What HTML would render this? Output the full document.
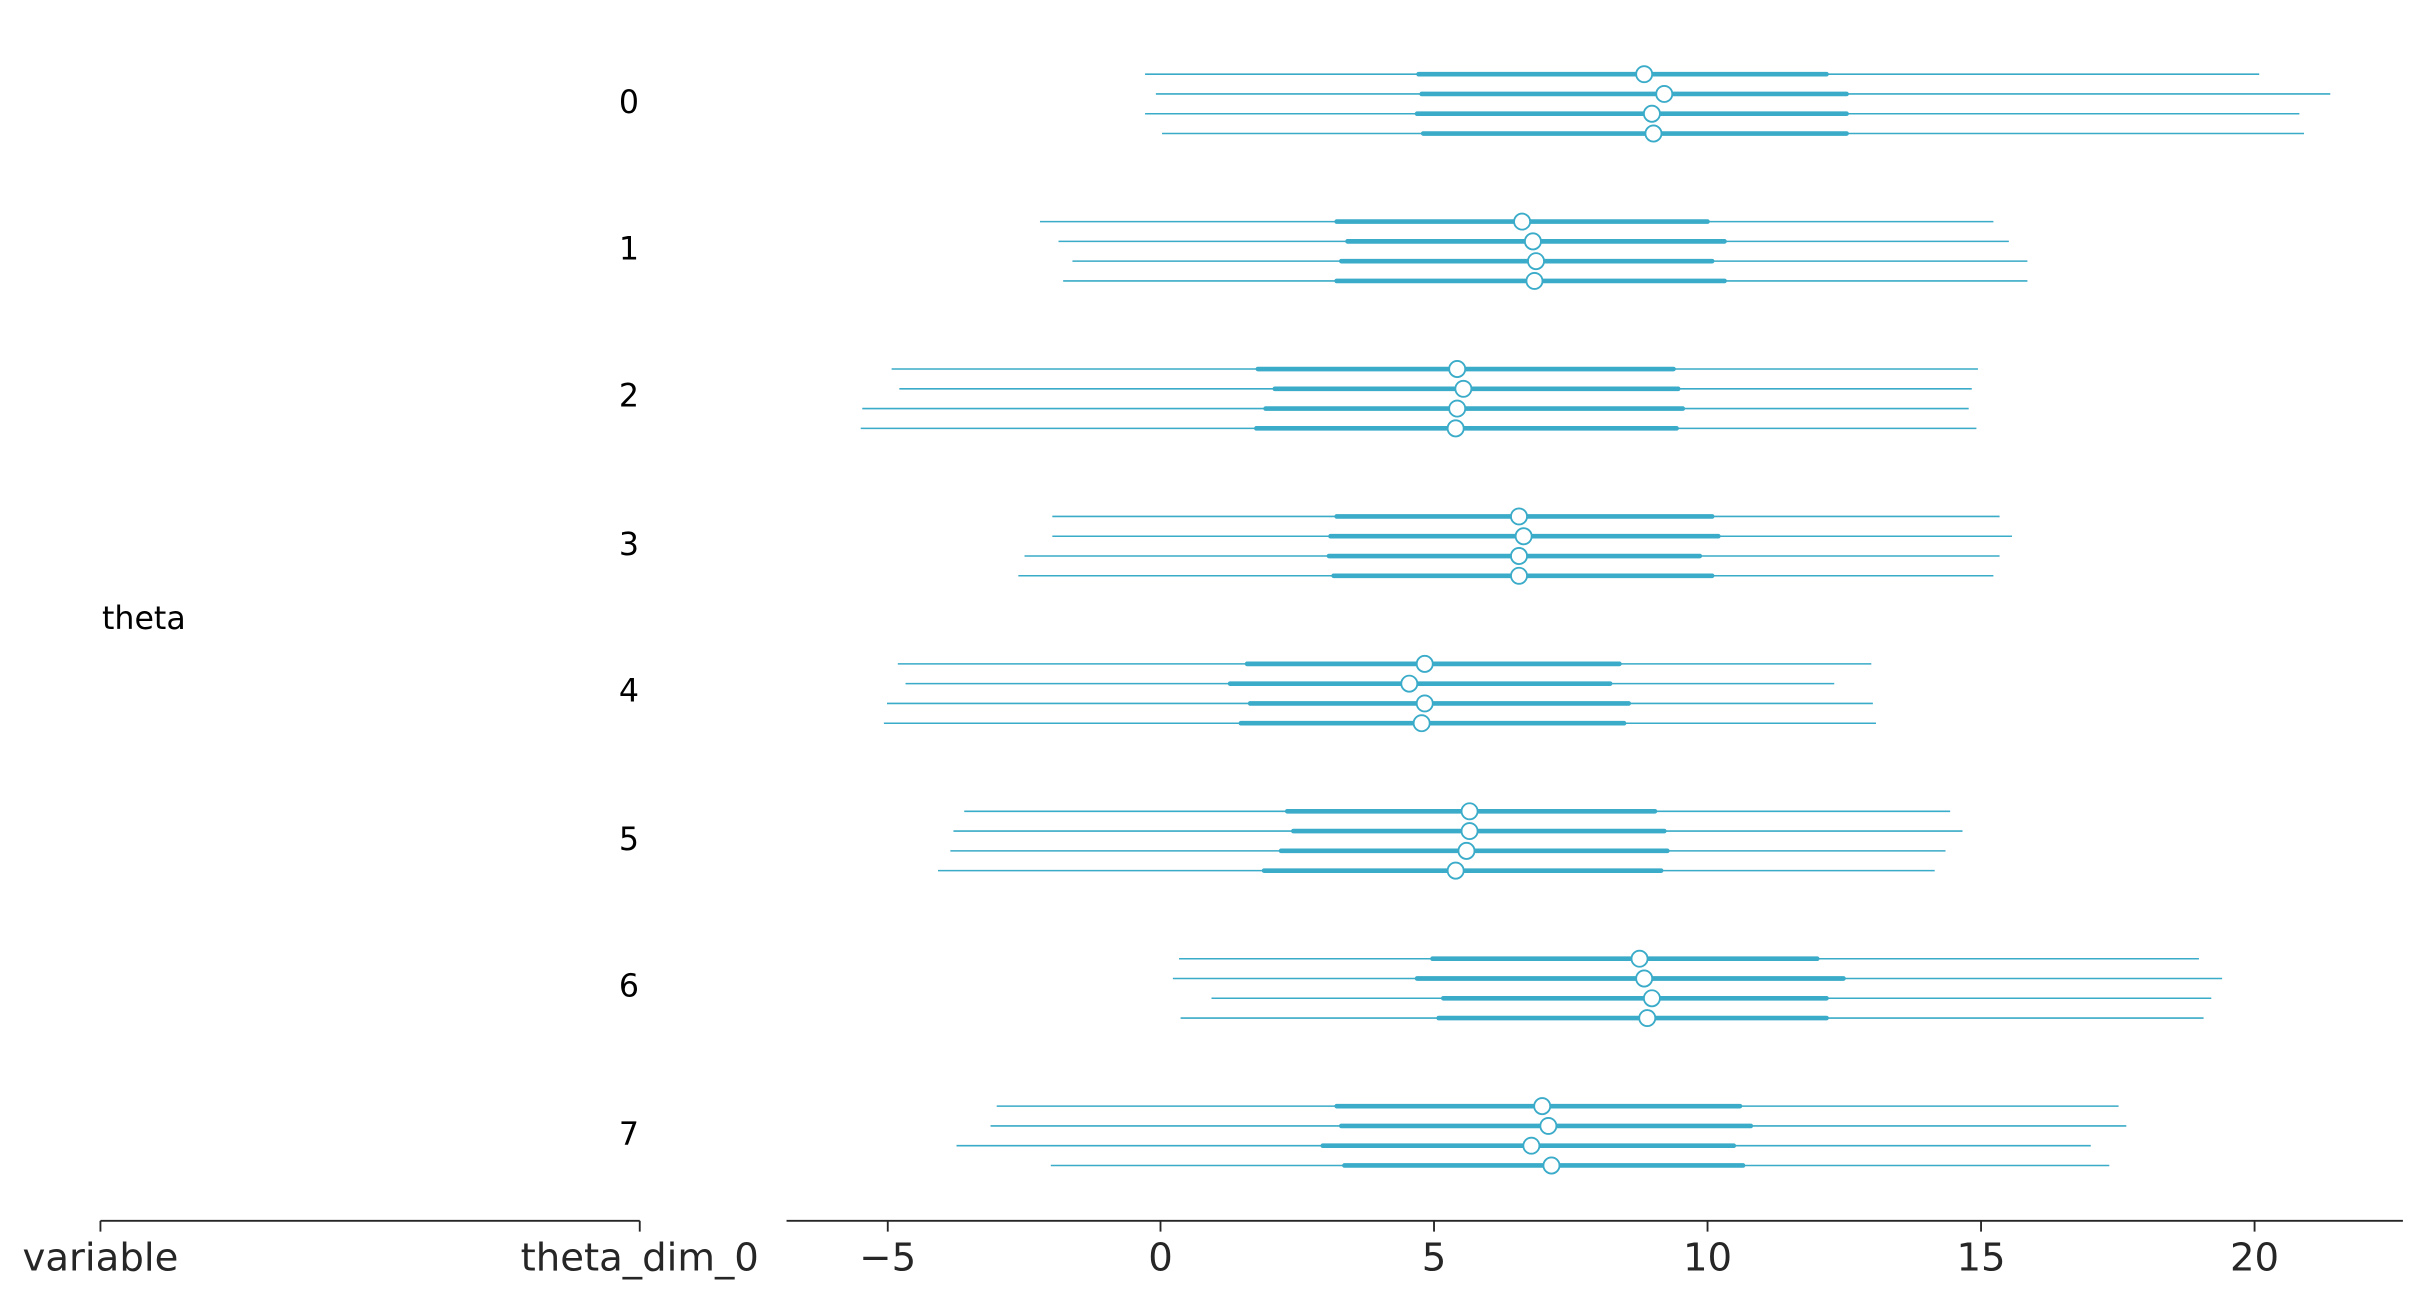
<!DOCTYPE html>
<html><head><meta charset="utf-8"><style>html,body{margin:0;padding:0;background:#fff}svg{display:block}</style></head>
<body>
<svg width="2423" height="1299" viewBox="0 0 1568 840.6" preserveAspectRatio="none" xmlns="http://www.w3.org/2000/svg" font-family="'DejaVu Sans','Liberation Sans',sans-serif">
<path stroke="#3aabc8" stroke-width="1" fill="none" d="
M741 48H1462M748 60.8H1508M741 73.6H1488M752 86.4H1491
M673 143.4H1290M685 156.2H1300M694 169H1312M688 181.8H1312
M577 238.8H1280M582 251.6H1276M558 264.4H1274M557 277.2H1279
M681 334.2H1294M681 347H1302M663 359.8H1294M659 372.6H1290
M581 429.6H1211M586 442.4H1187M574 455.2H1212M572 468H1214
M624 525H1262M617 537.8H1270M615 550.6H1259M607 563.4H1252
M763 620.4H1423M759 633.2H1438M784 646H1431M764 658.8H1426
M645 715.8H1371M641 728.6H1376M619 741.4H1353M680 754.2H1365"/>
<path stroke="#3aabc8" stroke-width="3" stroke-linecap="round" fill="none" d="
M918 48H1182M920 60.8H1195M917 73.6H1195M921 86.4H1195
M865 143.4H1105M872 156.2H1116M868 169H1108M865 181.8H1116
M814 238.8H1083M825 251.6H1086M819 264.4H1089M813 277.2H1085
M865 334.2H1108M861 347H1112M860 359.8H1100M863 372.6H1108
M807 429.6H1048M796 442.4H1042M809 455.2H1054M803 468H1051
M833 525H1071M837 537.8H1077M829 550.6H1079M818 563.4H1075
M927 620.4H1176M917 633.2H1193M934 646H1182M931 658.8H1182
M865 715.8H1126M868 728.6H1133M856 741.4H1122M870 754.2H1128"/>
<g fill="#fff" stroke="#3aabc8" stroke-width="1.2">
<circle cx="1064" cy="48" r="5.2"/><circle cx="1077" cy="60.8" r="5.2"/><circle cx="1069" cy="73.6" r="5.2"/><circle cx="1070" cy="86.4" r="5.2"/>
<circle cx="985" cy="143.4" r="5.2"/><circle cx="992" cy="156.2" r="5.2"/><circle cx="994" cy="169" r="5.2"/><circle cx="993" cy="181.8" r="5.2"/>
<circle cx="943" cy="238.8" r="5.2"/><circle cx="947" cy="251.6" r="5.2"/><circle cx="943" cy="264.4" r="5.2"/><circle cx="942" cy="277.2" r="5.2"/>
<circle cx="983" cy="334.2" r="5.2"/><circle cx="986" cy="347" r="5.2"/><circle cx="983" cy="359.8" r="5.2"/><circle cx="983" cy="372.6" r="5.2"/>
<circle cx="922" cy="429.6" r="5.2"/><circle cx="912" cy="442.4" r="5.2"/><circle cx="922" cy="455.2" r="5.2"/><circle cx="920" cy="468" r="5.2"/>
<circle cx="951" cy="525" r="5.2"/><circle cx="951" cy="537.8" r="5.2"/><circle cx="949" cy="550.6" r="5.2"/><circle cx="942" cy="563.4" r="5.2"/>
<circle cx="1061" cy="620.4" r="5.2"/><circle cx="1064" cy="633.2" r="5.2"/><circle cx="1069" cy="646" r="5.2"/><circle cx="1066" cy="658.8" r="5.2"/>
<circle cx="998" cy="715.8" r="5.2"/><circle cx="1002" cy="728.6" r="5.2"/><circle cx="991" cy="741.4" r="5.2"/><circle cx="1004" cy="754.2" r="5.2"/>
</g>
<g font-size="20.5" fill="#000" text-anchor="middle">
<text x="407" y="73">0</text><text x="407" y="168">1</text><text x="407" y="263">2</text><text x="407" y="359">3</text>
<text x="407" y="454">4</text><text x="407" y="550">5</text><text x="407" y="645">6</text><text x="407" y="741">7</text>
</g>
<text x="66" y="407" font-size="20.5" fill="#000">theta</text>
<g stroke="#262626" stroke-width="1.2" fill="none">
<line x1="65" y1="790" x2="414" y2="790"/><line x1="65" y1="790" x2="65" y2="797"/><line x1="414" y1="790" x2="414" y2="797"/>
<line x1="509" y1="790" x2="1555" y2="790"/>
<line x1="574.5" y1="790" x2="574.5" y2="797"/><line x1="751" y1="790" x2="751" y2="797"/><line x1="928" y1="790" x2="928" y2="797"/>
<line x1="1105" y1="790" x2="1105" y2="797"/><line x1="1282" y1="790" x2="1282" y2="797"/><line x1="1459" y1="790" x2="1459" y2="797"/>
</g>
<g font-size="25" fill="#262626" text-anchor="middle">
<text x="65" y="822">variable</text><text x="414" y="822">theta_dim_0</text>
<text x="574.5" y="822">−5</text><text x="751" y="822">0</text><text x="928" y="822">5</text>
<text x="1105" y="822">10</text><text x="1282" y="822">15</text><text x="1459" y="822">20</text>
</g>
</svg>
</body></html>
